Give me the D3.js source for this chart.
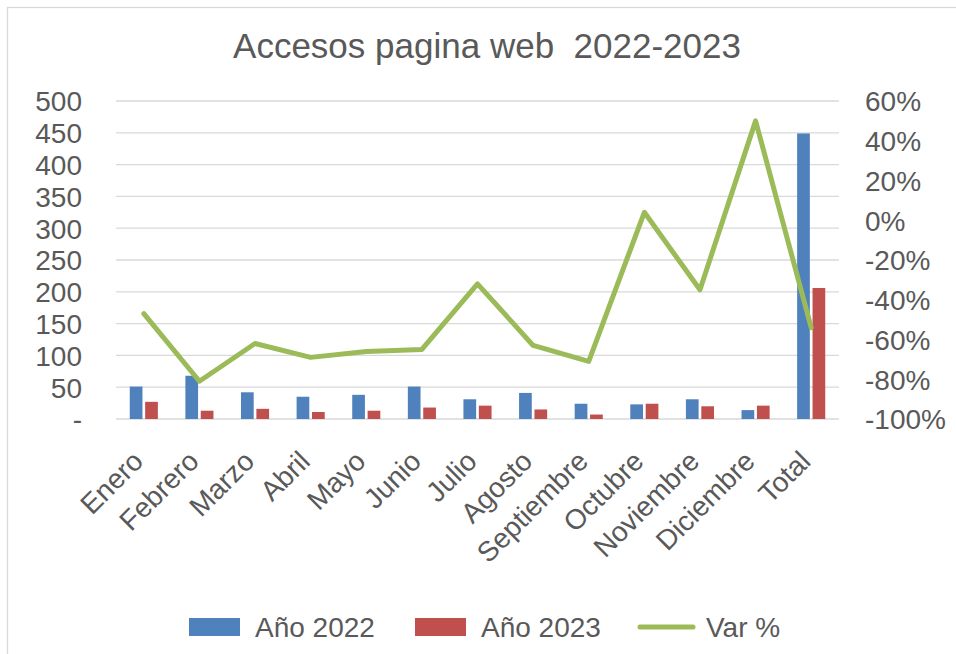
<!DOCTYPE html>
<html>
<head>
<meta charset="utf-8">
<script src="https://cdn.jsdelivr.net/npm/d3@7/dist/d3.min.js"></script>
<style>
  html, body { margin: 0; padding: 0; background: #fff; }
  svg { display: block; font-family: "Liberation Sans", Arial, sans-serif; }
</style>
</head>
<body>
<svg id="chart" width="956" height="654"></svg>
<script>
// ---- data ----
const categories = ["Enero","Febrero","Marzo","Abril","Mayo","Junio","Julio","Agosto","Septiembre","Octubre","Noviembre","Diciembre","Total"];
const values2022 = [51, 68, 42, 35, 38, 51, 31, 41, 24, 23, 31, 14, 449];
const values2023 = [27, 13, 16, 11, 13, 18, 21, 15, 7, 24, 20, 21, 206];
const varPct    = [-47, -81, -62, -69, -66, -65, -32, -63, -71, 4, -35, 50, -54];
const leftTicks  = [0, 50, 100, 150, 200, 250, 300, 350, 400, 450, 500];
const rightTicks = [-100, -80, -60, -40, -20, 0, 20, 40, 60];
const seriesNames = ["Año 2022", "Año 2023", "Var %"];
const title = "Accesos pagina web  2022-2023";

// ---- styles ----
const colors = { a: "#4F81BD", b: "#C0504D", line: "#9BBB59", text: "#595959", grid: "#D9D9D9" };
const W = 956, H = 654;
const plot = { left: 116, right: 839, top: 101, bottom: 419 };

const svg = d3.select("#chart");

// chart border (top + left visible)
svg.append("rect")
  .attr("x", 7.5).attr("y", 7.5)
  .attr("width", W + 20).attr("height", H + 20)
  .attr("fill", "#fff").attr("stroke", colors.grid).attr("stroke-width", 1.3);

// scales
const x = d3.scaleBand().domain(categories).range([plot.left, plot.right]).paddingInner(0).paddingOuter(0);
const bw = x.bandwidth();
const x1 = d3.scaleBand().domain(["a", "b"]).range([bw / 2 - 14.05, bw / 2 + 14.05]).paddingInner(0.175).paddingOuter(0);
const yL = d3.scaleLinear().domain([0, 500]).range([plot.bottom, plot.top]);
const yR = d3.scaleLinear().domain([-100, 60]).range([plot.bottom, plot.top]);

// title
svg.append("text")
  .attr("x", 487).attr("y", 58)
  .attr("text-anchor", "middle")
  .attr("font-size", 35)
  .attr("fill", colors.text)
  .attr("xml:space", "preserve")
  .style("white-space", "pre")
  .text(title);

// gridlines
svg.append("g").selectAll("line").data(leftTicks).join("line")
  .attr("x1", plot.left).attr("x2", plot.right)
  .attr("y1", d => yL(d)).attr("y2", d => yL(d))
  .attr("stroke", colors.grid).attr("stroke-width", 1.3);

// left axis
const leftAxis = d3.axisLeft(yL).tickValues(leftTicks)
  .tickFormat(d => d === 0 ? "-" : d3.format("d")(d))
  .tickSize(0).tickPadding(0);
const gL = svg.append("g").attr("transform", `translate(${82},0)`).call(leftAxis);
gL.select(".domain").remove();
gL.selectAll("text").attr("font-size", 28).attr("fill", colors.text)
  .attr("font-family", "Liberation Sans, Arial, sans-serif").attr("dy", "0.35em");

// right axis
const rightAxis = d3.axisRight(yR).tickValues(rightTicks)
  .tickFormat(d => d + "%").tickSize(0).tickPadding(0);
const gR = svg.append("g").attr("transform", `translate(${865},0)`).call(rightAxis);
gR.select(".domain").remove();
gR.selectAll("text").attr("font-size", 28).attr("fill", colors.text)
  .attr("font-family", "Liberation Sans, Arial, sans-serif").attr("dy", "0.35em");

// bars
const rows = categories.map((c, i) => ({ c, a: values2022[i], b: values2023[i], v: varPct[i] }));
const gBars = svg.append("g");
gBars.selectAll("rect.a").data(rows).join("rect").attr("class", "a")
  .attr("x", d => x(d.c) + x1("a")).attr("width", x1.bandwidth())
  .attr("y", d => yL(d.a)).attr("height", d => yL(0) - yL(d.a))
  .attr("fill", colors.a);
gBars.selectAll("rect.b").data(rows).join("rect").attr("class", "b")
  .attr("x", d => x(d.c) + x1("b")).attr("width", x1.bandwidth())
  .attr("y", d => yL(d.b)).attr("height", d => yL(0) - yL(d.b))
  .attr("fill", colors.b);

// line
const line = d3.line().x(d => x(d.c) + bw / 2).y(d => yR(d.v));
svg.append("path").datum(rows)
  .attr("d", line).attr("fill", "none")
  .attr("stroke", colors.line).attr("stroke-width", 5)
  .attr("stroke-linejoin", "round").attr("stroke-linecap", "round");

// x labels
svg.append("g").selectAll("text").data(categories).join("text")
  .attr("transform", d => `translate(${x(d) + bw / 2 + 1},${463}) rotate(-45)`)
  .attr("text-anchor", "end")
  .attr("font-size", 28).attr("fill", colors.text)
  .text(d => d);

// legend
const lg = svg.append("g");
lg.append("rect").attr("x", 189).attr("y", 618).attr("width", 51).attr("height", 18).attr("fill", colors.a);
lg.append("text").attr("x", 255).attr("y", 637).attr("font-size", 28).attr("fill", colors.text).text(seriesNames[0]);
lg.append("rect").attr("x", 415).attr("y", 618).attr("width", 51).attr("height", 18).attr("fill", colors.b);
lg.append("text").attr("x", 481).attr("y", 637).attr("font-size", 28).attr("fill", colors.text).text(seriesNames[1]);
lg.append("line").attr("x1", 640).attr("x2", 693).attr("y1", 627).attr("y2", 627)
  .attr("stroke", colors.line).attr("stroke-width", 5).attr("stroke-linecap", "round");
lg.append("text").attr("x", 706).attr("y", 637).attr("font-size", 28).attr("fill", colors.text).text(seriesNames[2]);
</script>
</body>
</html>
